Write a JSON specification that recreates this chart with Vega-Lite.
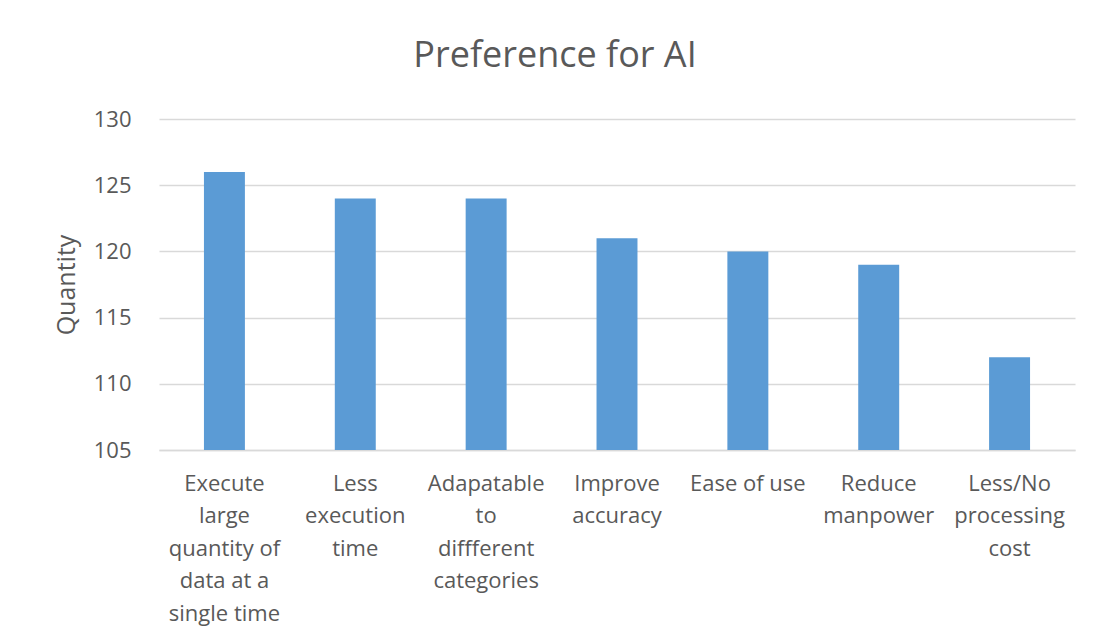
{
  "$schema": "https://vega.github.io/schema/vega-lite/v6.json",
  "autosize": {"type": "none"},
  "padding": {"left": 159, "top": 119, "right": 19, "bottom": 193},
  "width": 916,
  "height": 331,
  "background": "white",
  "title": {
    "text": "Preference for AI",
    "font": "Open Sans",
    "fontSize": 36,
    "fontWeight": "normal",
    "color": "#595959",
    "anchor": "middle",
    "frame": "group",
    "dx": -62,
    "baseline": "alphabetic",
    "offset": 5
  },
  "data": {
    "values": [
      {"reason": "Execute\nlarge\nquantity of\ndata at a\nsingle time", "quantity": 126},
      {"reason": "Less\nexecution\ntime", "quantity": 124},
      {"reason": "Adapatable\nto\ndiffferent\ncategories", "quantity": 124},
      {"reason": "Improve\naccuracy", "quantity": 121},
      {"reason": "Ease of use", "quantity": 120},
      {"reason": "Reduce\nmanpower", "quantity": 119},
      {"reason": "Less/No\nprocessing\ncost", "quantity": 112}
    ]
  },
  "mark": {"type": "bar", "color": "#5B9BD5", "clip": true},
  "encoding": {
    "x": {
      "field": "reason",
      "type": "nominal",
      "sort": null,
      "scale": {"paddingInner": 0.687, "paddingOuter": 0.3435},
      "axis": {
        "title": null,
        "labelAngle": 0,
        "labelExpr": "split(datum.label, '\\n')",
        "labelFont": "Open Sans",
        "labelFontSize": 22,
        "labelColor": "#595959",
        "labelLineHeight": 32.5,
        "labelBaseline": "top",
        "labelPadding": 23,
        "labelLimit": 300,
        "ticks": false,
        "domain": true,
        "domainColor": "#d9d9d9",
        "domainWidth": 1.5,
        "grid": false
      }
    },
    "y": {
      "field": "quantity",
      "type": "quantitative",
      "scale": {"domain": [105, 130], "zero": false, "nice": false},
      "axis": {
        "title": "Quantity",
        "titleFont": "Open Sans",
        "titleFontSize": 25,
        "titleFontWeight": "normal",
        "titleColor": "#595959",
        "titlePadding": 14,
        "values": [105, 110, 115, 120, 125, 130],
        "labelFont": "Open Sans",
        "labelFontSize": 22,
        "labelColor": "#595959",
        "labelPadding": 28,
        "ticks": false,
        "domain": false,
        "grid": true,
        "gridColor": "#d9d9d9",
        "gridWidth": 1.5
      }
    }
  },
  "config": {"view": {"stroke": null}}
}
